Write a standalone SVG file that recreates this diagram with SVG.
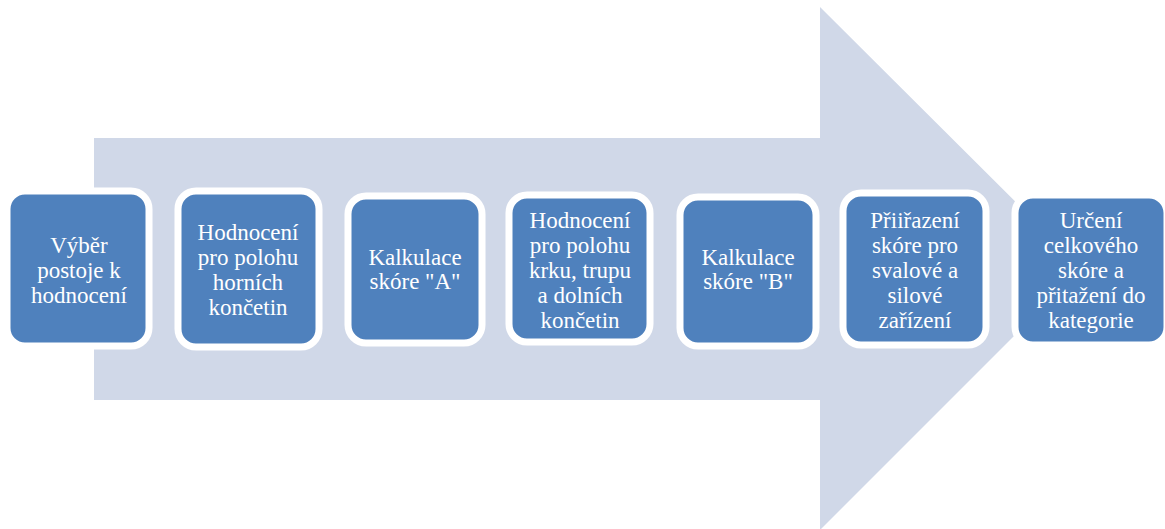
<svg xmlns="http://www.w3.org/2000/svg" width="1165" height="529" viewBox="0 0 1165 529">
<style>
.bx{fill:#4F81BD;stroke:#FFFFFF;stroke-width:7}
.t{font-family:'Liberation Serif','DejaVu Serif',serif;font-size:23px;fill:#FFFFFF;text-anchor:middle}
</style>
<rect width="1165" height="529" fill="#FFFFFF"/>
<g id="arrow">
<polygon points="94,138 820,138 820,7 1082,268 820,530 820,400 94,400" fill="#D0D8E8"/>
</g>
<g id="connectors"></g>
<g id="n1">
<rect class="bx" x="7" y="191" width="142" height="155" rx="18"/>
<text class="t" font-family="Liberation Serif, serif"><tspan x="79" y="253">Výběr</tspan><tspan x="79" y="278">postoje k</tspan><tspan x="79" y="303">hodnocení</tspan></text>
</g>
<g id="n2">
<rect class="bx" x="178" y="191" width="141" height="156" rx="18"/>
<text class="t"><tspan x="248" y="240">Hodnocení</tspan><tspan x="248" y="265">pro polohu</tspan><tspan x="248" y="290">horních</tspan><tspan x="248" y="315">končetin</tspan></text>
</g>
<g id="n3">
<rect class="bx" x="348" y="196" width="134" height="147" rx="18"/>
<text class="t"><tspan x="415" y="265">Kalkulace</tspan><tspan x="415" y="289">skóre "A"</tspan></text>
</g>
<g id="n4">
<rect class="bx" x="509" y="195" width="141" height="147" rx="18"/>
<text class="t"><tspan x="580" y="228">Hodnocení</tspan><tspan x="580" y="253">pro polohu</tspan><tspan x="580" y="278">krku, trupu</tspan><tspan x="580" y="303">a dolních</tspan><tspan x="580" y="328">končetin</tspan></text>
</g>
<g id="n5">
<rect class="bx" x="680" y="197" width="136" height="149" rx="18"/>
<text class="t"><tspan x="748" y="265">Kalkulace</tspan><tspan x="748" y="289">skóre "B"</tspan></text>
</g>
<g id="n6">
<rect class="bx" x="843" y="193" width="143" height="152" rx="18"/>
<text class="t"><tspan x="915" y="228">Přiiřazení</tspan><tspan x="915" y="253">skóre pro</tspan><tspan x="915" y="278">svalové a</tspan><tspan x="915" y="303">silové</tspan><tspan x="915" y="328">zařízení</tspan></text>
</g>
<g id="n7">
<rect class="bx" x="1015" y="195" width="152" height="150" rx="18"/>
<text class="t"><tspan x="1091" y="228">Určení</tspan><tspan x="1091" y="253">celkového</tspan><tspan x="1091" y="278">skóre a</tspan><tspan x="1091" y="303">přitažení do</tspan><tspan x="1091" y="328">kategorie</tspan></text>
</g>
</svg>
